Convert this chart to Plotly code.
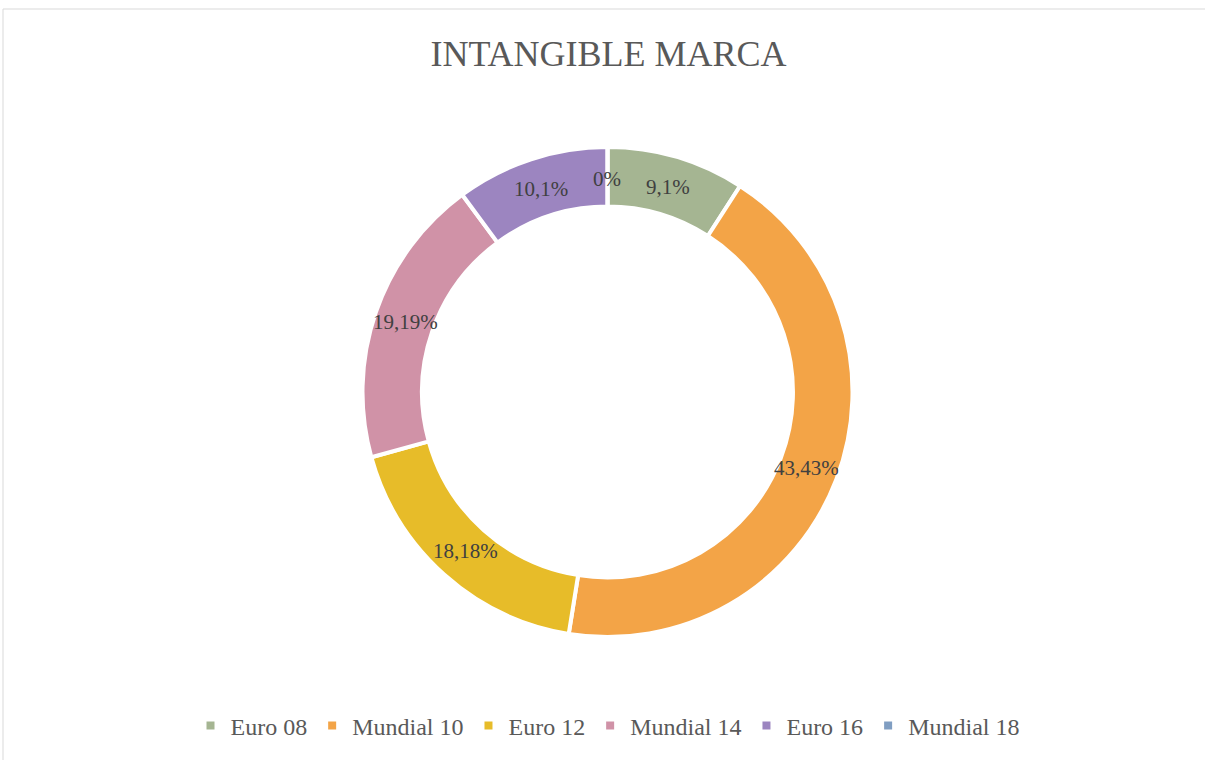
import math
import plotly.graph_objects as go

# Tournament shares for the "intangible marca" breakdown (percent)
torneos = ["Euro 08", "Mundial 10", "Euro 12", "Mundial 14", "Euro 16", "Mundial 18"]
porcentajes = [9.1, 43.43, 18.18, 19.19, 10.1, 0.0]
etiquetas = ["9,1%", "43,43%", "18,18%", "19,19%", "10,1%", "0%"]
colores = ["#a5b592", "#f3a447", "#e7bc29", "#d092a7", "#9c85c0", "#809ec2"]

W, H = 1205, 760
M_L, M_R, M_T, M_B = 10, 0, 147, 123
PW, PH = W - M_L - M_R, H - M_T - M_B
R_OUT = min(PW, PH) / 2 - 2
HOLE = 0.757
R_MID = R_OUT * (1 + HOLE) / 2

SERIF = "Liberation Serif, DejaVu Serif, serif"

fig = go.Figure(
    go.Pie(
        labels=torneos,
        values=porcentajes,
        hole=HOLE,
        sort=False,
        direction="clockwise",
        rotation=0,
        marker=dict(colors=colores, line=dict(color="white", width=4)),
        textinfo="none",
        hoverinfo="label+percent",
    )
)

# Horizontal labels centred on the ring, at each slice's mid angle
total = sum(porcentajes)
acum = 0.0
for val, txt in zip(porcentajes, etiquetas):
    mid = (acum + val / 2) / total * 2 * math.pi
    acum += val
    x = 0.5 + R_MID * math.sin(mid) / PW
    y = 0.5 + R_MID * math.cos(mid) / PH
    fig.add_annotation(
        x=x, y=y, xref="paper", yref="paper",
        text=txt, showarrow=False,
        font=dict(family=SERIF, size=21, color="#404040"),
        xanchor="center", yanchor="middle",
    )

# Light chart frame
fig.add_shape(
    type="rect", xref="paper", yref="paper",
    x0=(3 - M_L) / PW, x1=(W + 5 - M_L) / PW,
    y0=(M_B - H - 5) / PH, y1=1 + (M_T - 9) / PH,
    line=dict(color="#d9d9d9", width=1), fillcolor="rgba(0,0,0,0)",
    layer="below",
)

fig.update_layout(
    width=W, height=H,
    margin=dict(l=M_L, r=M_R, t=M_T, b=M_B),
    paper_bgcolor="white", plot_bgcolor="white",
    title=dict(
        text="INTANGIBLE MARCA",
        x=608.5 / W, xanchor="center",
        y=1 - 53 / H, yanchor="middle",
        font=dict(family=SERIF, size=36, color="#595959"),
    ),
    showlegend=True,
    legend=dict(
        orientation="h",
        x=0.5, xanchor="center",
        y=-(726 - (M_T + PH)) / PH, yanchor="middle",
        font=dict(family=SERIF, size=24, color="#595959"),
        itemwidth=30,
        traceorder="normal",
    ),
)

fig.write_html("out.html")
